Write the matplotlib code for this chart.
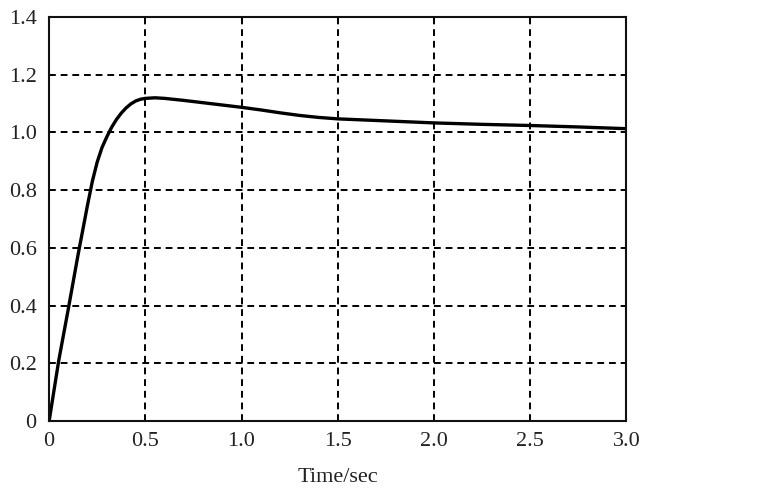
import matplotlib.pyplot as plt

# step response
t = [0, 0.05, 0.1, 0.15, 0.2, 0.225, 0.25, 0.275, 0.3, 0.325, 0.35, 0.375,
     0.4, 0.425, 0.45, 0.475, 0.5, 0.55, 0.6, 0.7, 0.8, 0.9, 1.0, 1.1, 1.2,
     1.3, 1.4, 1.5, 1.75, 2.0, 2.25, 2.5, 2.75, 3.0]
y = [0, 0.21, 0.39, 0.575, 0.75, 0.832, 0.898, 0.948, 0.985, 1.018, 1.045,
     1.067, 1.085, 1.099, 1.109, 1.115, 1.118, 1.12, 1.118, 1.111, 1.103,
     1.095, 1.087, 1.078, 1.068, 1.059, 1.052, 1.047, 1.040, 1.033, 1.028,
     1.024, 1.019, 1.013]

xticks = [0, 0.5, 1.0, 1.5, 2.0, 2.5, 3.0]
xlabels = ["0", "0.5", "1.0", "1.5", "2.0", "2.5", "3.0"]
yticks = [0, 0.2, 0.4, 0.6, 0.8, 1.0, 1.2, 1.4]
ylabels = ["0", "0.2", "0.4", "0.6", "0.8", "1.0", "1.2", "1.4"]

plt.rcParams["font.family"] = ["Liberation Serif", "DejaVu Serif"]

fig = plt.figure(figsize=(7.8, 5), dpi=100)
ax = fig.add_axes([0.063, 0.158, 0.740, 0.808])

ax.plot(t, y, color="black", lw=2.4, solid_capstyle="round",
        solid_joinstyle="round")

ax.set_xlim(0, 3)
ax.set_ylim(0, 1.4)
ax.set_xticks(xticks)
ax.set_xticklabels(xlabels)
ax.set_yticks(yticks)
ax.set_yticklabels(ylabels)
ax.tick_params(length=0, labelsize=16, colors="#222222")
ax.tick_params(axis="y", pad=9)
ax.tick_params(axis="x", pad=8)

ax.grid(True, color="black", ls=(0, (3.5, 2.5)), lw=1.4)
for s in ax.spines.values():
    s.set_linewidth(1.5)
    s.set_color("#111111")

ax.set_xlabel("Time/sec", fontsize=16, labelpad=12, color="#222222")

fig.savefig("out.png", dpi=100)
